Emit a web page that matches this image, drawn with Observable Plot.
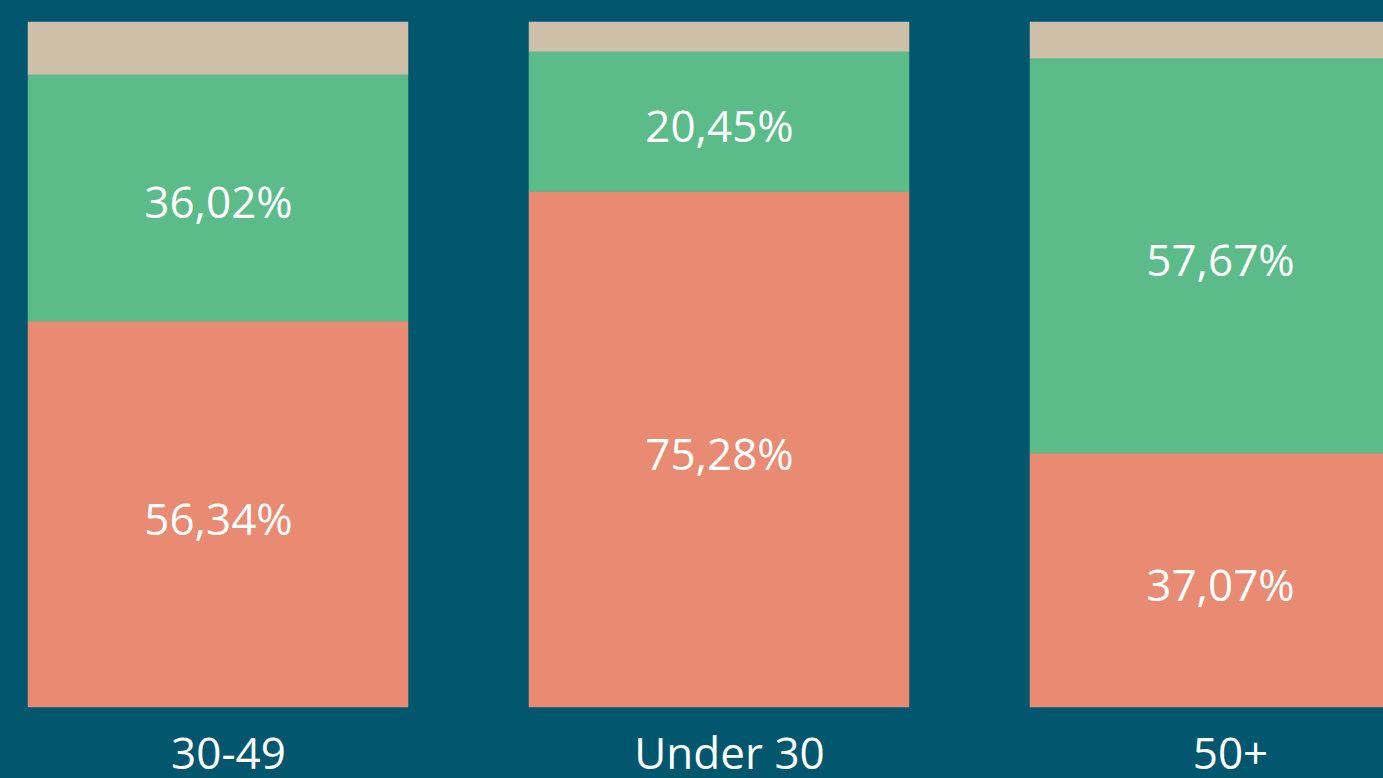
<!DOCTYPE html>
<html>
<head>
<meta charset="utf-8">
<script src="https://cdn.jsdelivr.net/npm/d3@7"></script>
<script src="https://cdn.jsdelivr.net/npm/@observablehq/plot@0.6"></script>
<style>
  html, body { margin: 0; padding: 0; background: #02566E; overflow: hidden; }
  #chart { width: 1383px; height: 778px; overflow: hidden; }
  #chart svg { max-width: none !important; }
</style>
</head>
<body>
<div id="chart"></div>
<script>
const groups = ["30-49", "Under 30", "50+"];
const seriesNames = ["A", "B", "C"];
const seriesA = [56.34, 75.28, 37.07];
const seriesB = [36.02, 20.45, 57.67];
const seriesC = [7.64, 4.27, 5.26];
const seriesColors = ["#E98A72", "#5BBC8A", "#CEC0A8"];
const labelled = ["A", "B"];

const allSeries = [seriesA, seriesB, seriesC];
const data = [];
seriesNames.forEach((s, si) => {
  groups.forEach((g, gi) => {
    data.push({group: g, series: s, value: allSeries[si][gi]});
  });
});
const fmt = v => v.toFixed(2).replace(".", ",") + "%";

const chart = Plot.plot({
  width: 1440,
  height: 778,
  marginLeft: 27,
  marginRight: 30,
  marginTop: 22,
  marginBottom: 71,
  style: {background: "#02566E", fontFamily: "'Open Sans', sans-serif", color: "white", maxWidth: "none"},
  x: {domain: groups, paddingInner: 0.2423, paddingOuter: 0, label: null},
  y: {domain: [0, 100], axis: null},
  color: {domain: seriesNames, range: seriesColors},
  marks: [
    Plot.barY(data, Plot.stackY({x: "group", y: "value", z: "series", fill: "series", stroke: "series", strokeWidth: 0.5, order: seriesNames})),
    Plot.text(data, Plot.stackY({
      x: "group", y: "value", z: "series", order: seriesNames,
      filter: d => labelled.includes(d.series),
      text: d => fmt(d.value), fill: "white", fontSize: 44, dy: 6
    })),
    Plot.axisX({tickSize: 0, tickPadding: 30, fontSize: 44, dx: 10, fill: "white", label: null})
  ]
});
document.getElementById("chart").appendChild(chart);
</script>
</body>
</html>
